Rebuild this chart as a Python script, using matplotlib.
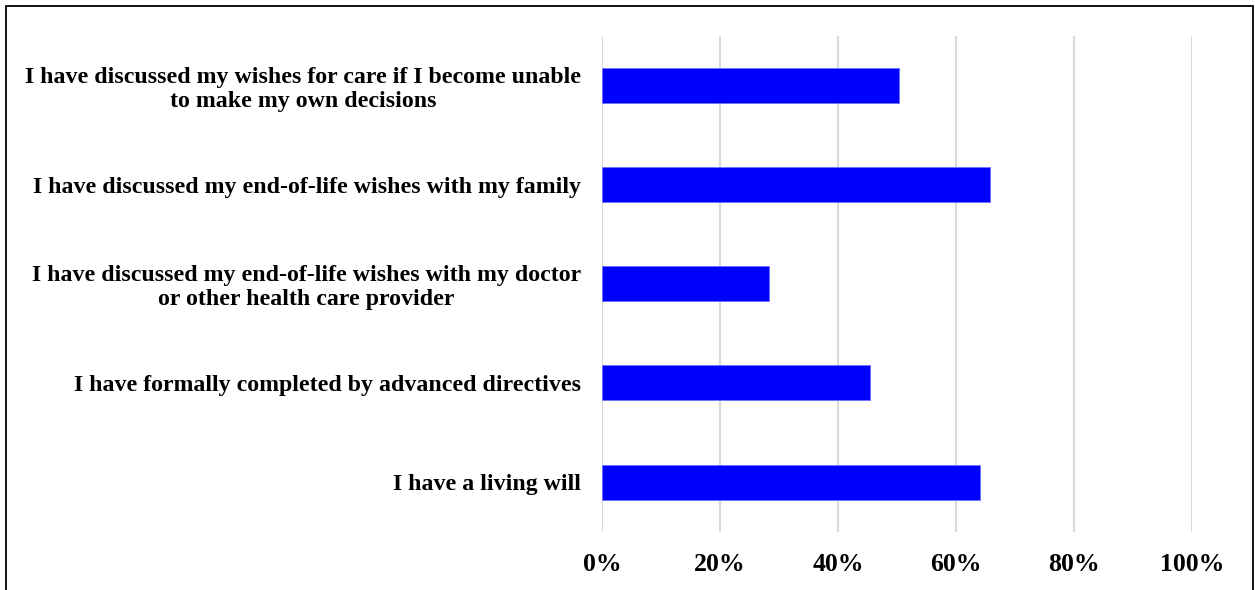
import matplotlib
matplotlib.use("Agg")
import matplotlib.pyplot as plt
from matplotlib.patches import Rectangle
from matplotlib.ticker import PercentFormatter

statements = [
    "I have discussed my wishes for care if I become unable\nto make my own decisions",
    "I have discussed my end-of-life wishes with my family",
    "I have discussed my end-of-life wishes with my doctor\nor other health care provider",
    "I have formally completed by advanced directives",
    "I have a living will",
]
percent = [50.3, 65.7, 28.3, 45.4, 64.1]
xticks = [0, 20, 40, 60, 80, 100]

plt.rcParams['font.family'] = ['Liberation Serif', 'DejaVu Serif']
plt.rcParams['font.weight'] = 'bold'

fig = plt.figure(figsize=(12.55, 5.9), dpi=100)
ax = fig.add_axes([602 / 1255, 1 - 531.7 / 590, 590 / 1255, 496 / 590])

pos = list(range(len(statements)))
ax.barh(pos, percent, height=0.353, color='#0000ff', edgecolor='#6f6fff', linewidth=0.6, zorder=3)

ax.set_xlim(0, 100)
ax.set_ylim(len(statements) - 0.5, -0.5)
ax.set_xticks(xticks)
ax.xaxis.set_major_formatter(PercentFormatter(decimals=0))
ax.set_yticks(pos, statements)
for lbl in ax.get_yticklabels():
    lbl.set_multialignment('center')
    lbl.set_linespacing(1.2)
    lbl.set_fontsize(17.2)
for lbl in ax.get_xticklabels():
    lbl.set_fontsize(18.5)

ax.tick_params(axis='both', length=0)
ax.tick_params(axis='x', pad=15)
ax.tick_params(axis='y', pad=15)
ax.grid(axis='x', color='#d9d9d9', linewidth=1.5, zorder=0)
for s in ax.spines.values():
    s.set_visible(False)

# outer frame round the whole chart
fig.patches.append(Rectangle((6 / 1255, -0.1), 1247 / 1255, 1.1 - 6 / 590,
                             transform=fig.transFigure, fill=False,
                             edgecolor='black', linewidth=1.3))

fig.savefig('out.png', dpi=100)
